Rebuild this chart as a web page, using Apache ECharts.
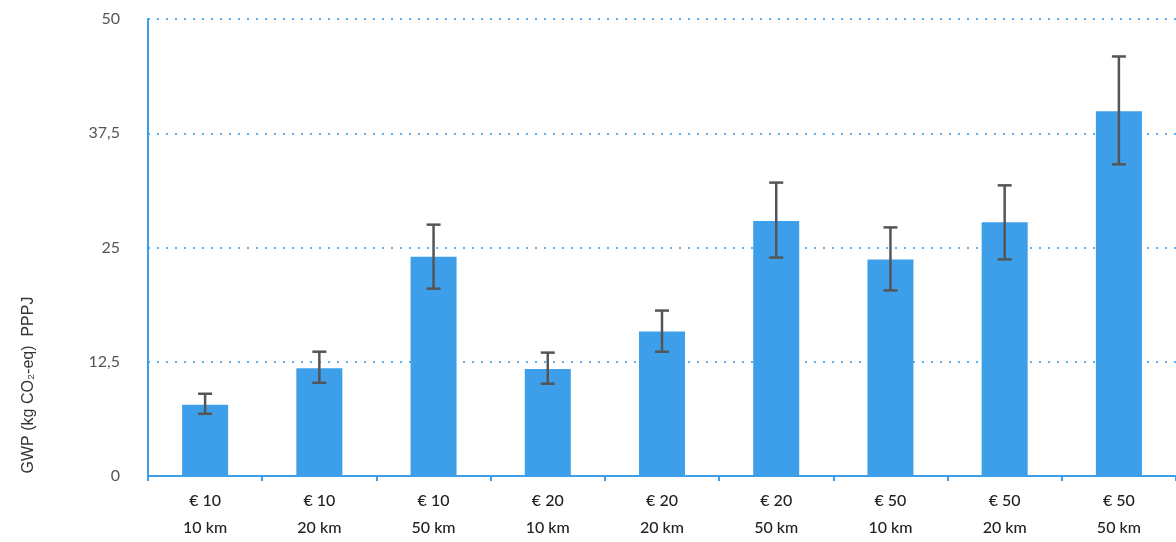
<!DOCTYPE html>
<html>
<head>
<meta charset="utf-8">
<script src="https://cdn.jsdelivr.net/npm/echarts@6/dist/echarts.min.js"></script>
<style>html,body{margin:0;padding:0;background:#fff;}#c{width:1176px;height:542px;}</style>
</head>
<body>
<div id="c"></div>
<script>
const prices = ['€ 10','€ 10','€ 10','€ 20','€ 20','€ 20','€ 50','€ 50','€ 50'];
const distances = ['10 km','20 km','50 km','10 km','20 km','50 km','10 km','20 km','50 km'];
const values = [7.8, 11.8, 24.0, 11.7, 15.8, 27.9, 23.7, 27.75, 39.9];
const errLow = [6.8, 10.2, 20.5, 10.1, 13.6, 23.9, 20.3, 23.7, 34.1];
const errHigh = [9.0, 13.6, 27.5, 13.5, 18.1, 32.1, 27.2, 31.8, 45.9];
const yTicks = [0, 12.5, 25, 37.5, 50];
const yTitle = 'GWP (kg CO₂-eq)  PPPJ';

const categories = prices.map((p, i) => p + '\n' + distances[i]);
const errData = values.map((v, i) => [i, errLow[i], errHigh[i]]);

const chart = echarts.init(document.getElementById('c'));
chart.setOption({
  animation: false,
  grid: {left: 148, right: 0, top: 19, bottom: 66, containLabel: false, outerBoundsMode: 'none'},
  xAxis: {
    type: 'category',
    data: categories,
    axisLine: {lineStyle: {color: '#3d9fe9', width: 2}},
    axisTick: {show: true, length: 5, alignWithLabel: false, lineStyle: {color: '#3d9fe9', width: 2}},
    axisLabel: {
      margin: 11, lineHeight: 27, color: '#222', fontSize: 16, fontWeight: 500, fontFamily: 'Lato',
      formatter: v => v
    }
  },
  yAxis: {
    type: 'value', min: 0, max: 50, interval: 12.5,
    axisLine: {show: true, lineStyle: {color: '#3d9fe9', width: 2}},
    axisTick: {show: false},
    splitLine: {show: true, lineStyle: {color: '#5aaef0', width: 2, type: [2, 7]}},
    axisLabel: {
      margin: 28, color: '#555', fontSize: 16, fontFamily: 'Lato',
      formatter: v => yTicks.includes(v) ? String(v).replace('.', ',') : ''
    }
  },
  graphic: [{
    type: 'text', x: 29, y: 385, rotation: Math.PI / 2,
    style: {text: yTitle, fill: '#333', fontSize: 16, fontFamily: 'Liberation Sans', align: 'center', verticalAlign: 'middle'}
  }],
  series: [
    {
      type: 'bar', data: values, barWidth: 46,
      itemStyle: {color: '#3d9fe9'}, z: 2
    },
    {
      type: 'custom', data: errData, z: 5,
      renderItem: function (params, api) {
        const x = api.value(0);
        const lo = api.coord([x, api.value(1)]);
        const hi = api.coord([x, api.value(2)]);
        const hw = 7;
        const style = {stroke: '#555', lineWidth: 2.5};
        return {
          type: 'group',
          children: [
            {type: 'line', shape: {x1: hi[0], y1: hi[1], x2: lo[0], y2: lo[1]}, style},
            {type: 'line', shape: {x1: hi[0] - hw, y1: hi[1], x2: hi[0] + hw, y2: hi[1]}, style},
            {type: 'line', shape: {x1: lo[0] - hw, y1: lo[1], x2: lo[0] + hw, y2: lo[1]}, style}
          ]
        };
      }
    }
  ]
});
</script>
</body>
</html>
